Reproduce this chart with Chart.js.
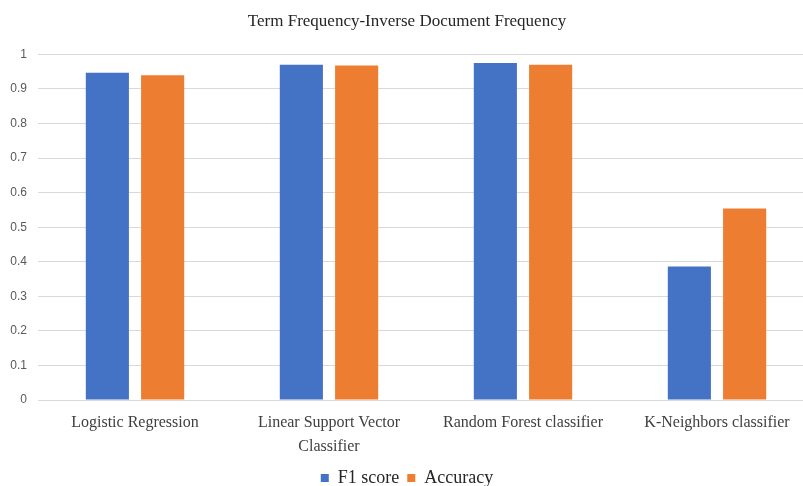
<!DOCTYPE html>
<html>
<head>
<meta charset="utf-8">
<script src="https://cdn.jsdelivr.net/npm/chart.js@4/dist/chart.umd.min.js"></script>
<style>
  html, body { margin: 0; padding: 0; background: #fff; overflow: hidden; }
  #wrap { position: relative; width: 814px; height: 486px; }
</style>
</head>
<body>
<div id="wrap"><canvas id="c"></canvas></div>
<script>
// Classifier scores on TF-IDF features
const chartTitle = 'Term Frequency-Inverse Document Frequency';
const categories = [
  ['Logistic Regression'],
  ['Linear Support Vector', 'Classifier'],
  ['Random Forest classifier'],
  ['K-Neighbors classifier']
];
const seriesNames = ['F1 score', 'Accuracy'];
const f1Scores = [0.947, 0.970, 0.975, 0.386];
const accuracyScores = [0.940, 0.968, 0.970, 0.554];
const yTicks = [0, 0.1, 0.2, 0.3, 0.4, 0.5, 0.6, 0.7, 0.8, 0.9, 1];

const serif = "'Liberation Serif', 'Times New Roman', serif";
const sans = "'Liberation Sans', Arial, sans-serif";

new Chart(document.getElementById('c'), {
  type: 'bar',
  data: {
    labels: categories,
    datasets: [
      { label: seriesNames[0], data: f1Scores, backgroundColor: '#4472C4' },
      { label: seriesNames[1], data: accuracyScores, backgroundColor: '#ED7D31' }
    ]
  },
  options: {
    responsive: true,
    maintainAspectRatio: false,
    animation: false,
    devicePixelRatio: 1,
    layout: { padding: { left: 0, right: 0, top: 0, bottom: -11 } },
    datasets: { bar: { categoryPercentage: 0.57, barPercentage: 0.78 } },
    plugins: {
      title: {
        display: true,
        text: chartTitle,
        color: '#262626',
        font: { family: serif, size: 17, weight: 'normal' },
        padding: { top: 11, bottom: 23 }
      },
      legend: {
        position: 'bottom',
        labels: {
          color: '#262626',
          font: { family: serif, size: 18 },
          boxWidth: 8,
          boxHeight: 8,
          padding: 8
        }
      },
      tooltip: { enabled: false }
    },
    scales: {
      x: {
        grid: { display: false },
        border: { display: true, color: '#d9d9d9', width: 1 },
        ticks: {
          color: '#404040',
          font: { family: serif, size: 16, lineHeight: 1.5 },
          padding: 3,
          maxRotation: 0,
          autoSkip: false
        },
        afterFit(scale) { scale.height = 61; }
      },
      y: {
        min: 0,
        max: 1,
        afterBuildTicks(scale) { scale.ticks = yTicks.map(v => ({ value: v })); },
        grid: { color: '#d9d9d9', lineWidth: 1, drawTicks: false },
        border: { display: false },
        ticks: {
          color: '#595959',
          font: { family: sans, size: 12 },
          padding: 11,
          callback: v => String(Math.round(v * 10) / 10)
        },
        afterFit(scale) { scale.width = 38; }
      }
    }
  }
});
</script>
</body>
</html>
